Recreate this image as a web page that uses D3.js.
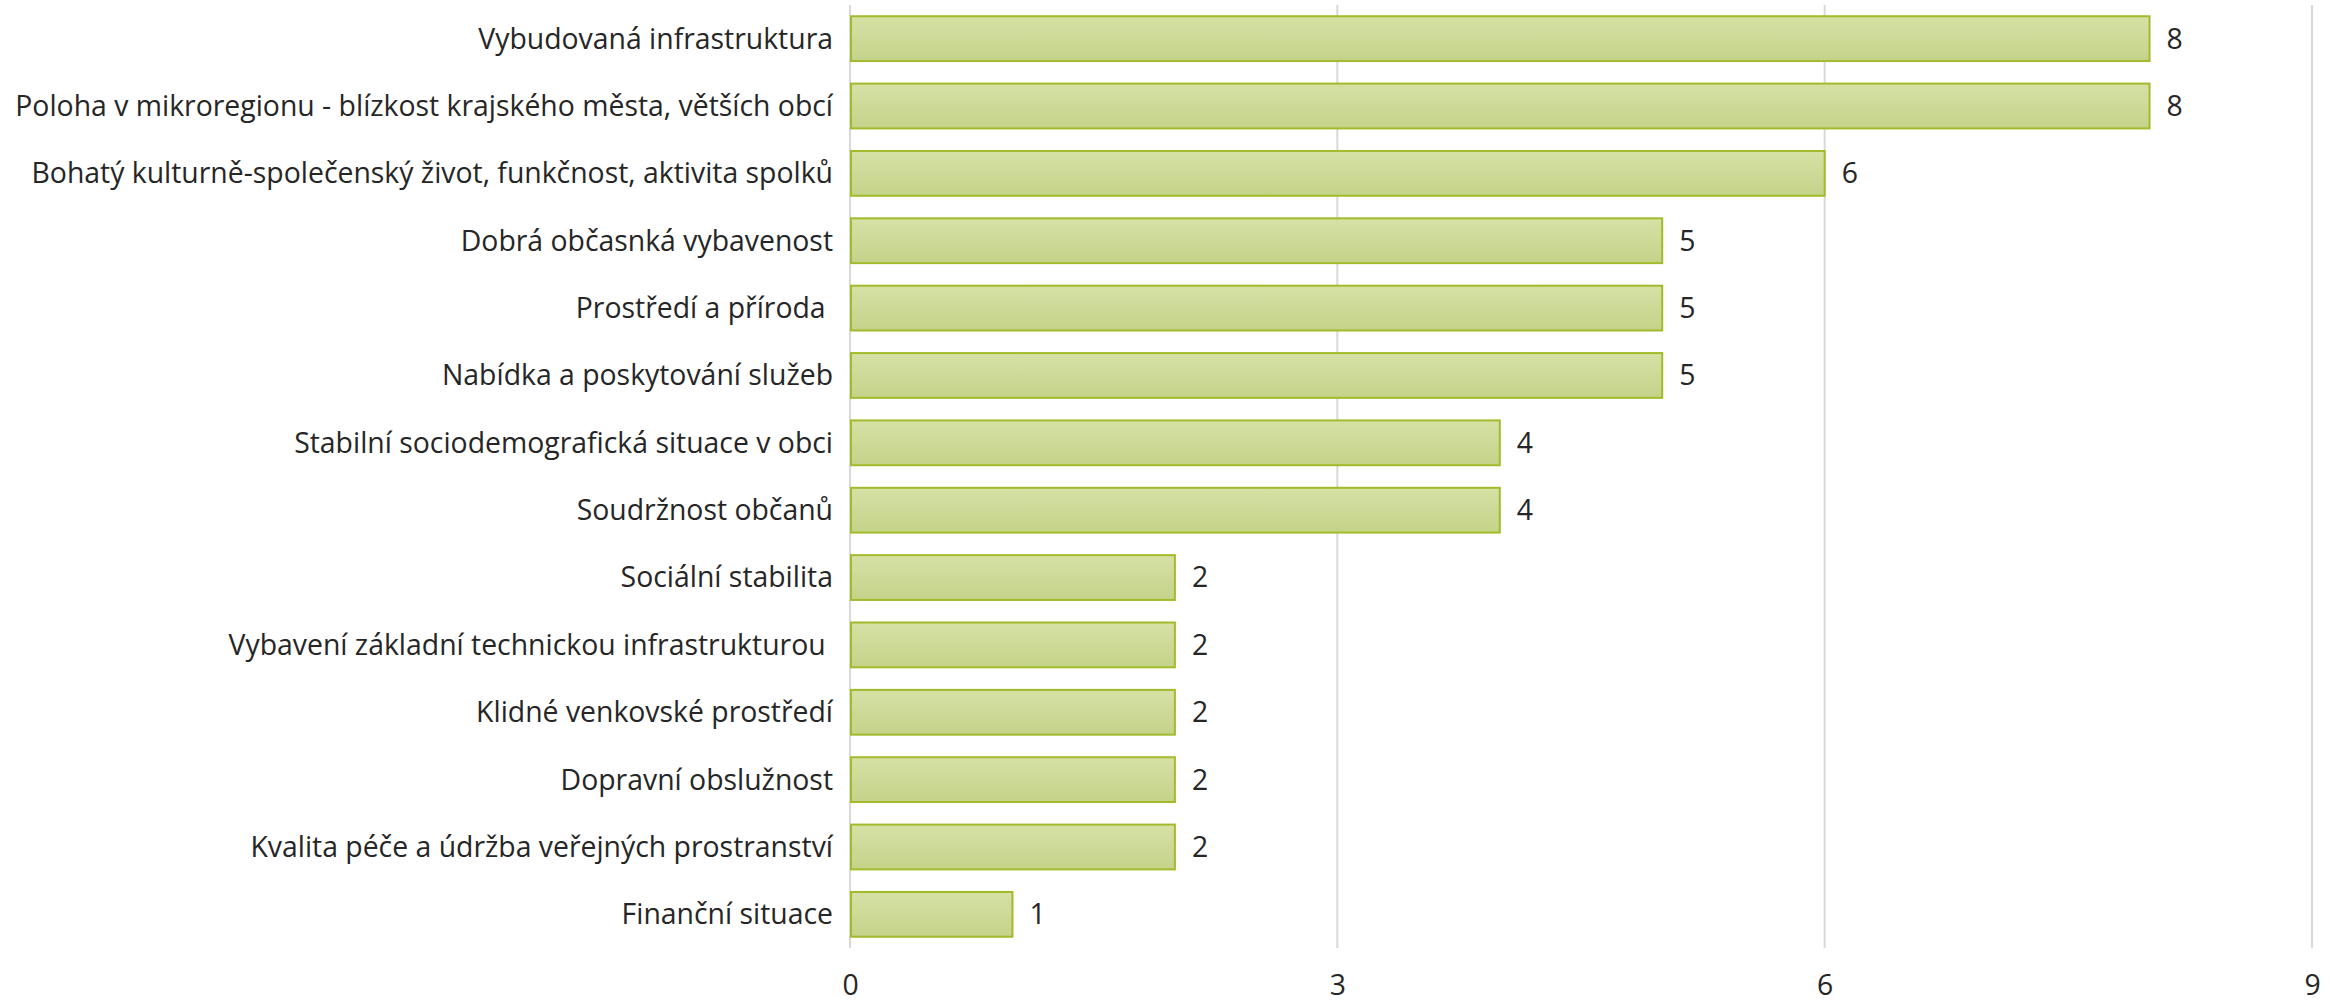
<!DOCTYPE html>
<html><head><meta charset="utf-8">
<script src="https://cdn.jsdelivr.net/npm/d3@7"></script>
<style>
html,body{margin:0;padding:0;background:#fff;}
svg{display:block;}
text{font-family:"Open Sans","Noto Sans",sans-serif;fill:#262626;}
</style></head><body>
<svg id="chart" width="2341" height="1004"></svg>
<script>
const categories = [
  "Vybudovaná infrastruktura",
  "Poloha v mikroregionu - blízkost krajského města, větších obcí",
  "Bohatý kulturně-společenský život, funkčnost, aktivita spolků",
  "Dobrá občasnká vybavenost",
  "Prostředí a příroda ",
  "Nabídka a poskytování služeb",
  "Stabilní sociodemografická situace v obci",
  "Soudržnost občanů",
  "Sociální stabilita",
  "Vybavení základní technickou infrastrukturou ",
  "Klidné venkovské prostředí",
  "Dopravní obslužnost",
  "Kvalita péče a údržba veřejných prostranství",
  "Finanční situace"
];
const values = [8, 8, 6, 5, 5, 5, 4, 4, 2, 2, 2, 2, 2, 1];
const tickValues = [0, 3, 6, 9];

(function(){
const svg = d3.select("#chart");
const mLeft = 850, mRight = 2312, mTop = 5, mBottom = 948;

const x = d3.scaleLinear().domain([0, 9]).range([mLeft, mRight]);
const y = d3.scaleBand().domain(categories).range([mTop, mBottom]).paddingInner(0.335).paddingOuter(0.167);

const defs = svg.append("defs");
const grad = defs.append("linearGradient").attr("id","barGrad").attr("x1",0).attr("y1",0).attr("x2",0).attr("y2",1);
grad.append("stop").attr("offset","0%").attr("stop-color","#d6e1a5");
grad.append("stop").attr("offset","100%").attr("stop-color","#c4d389");

svg.append("g").selectAll("line").data(tickValues).join("line")
  .attr("x1", d => x(d)).attr("x2", d => x(d))
  .attr("y1", mTop).attr("y2", mBottom)
  .attr("stroke", "#d9d9d9").attr("stroke-width", 2);

svg.append("g").selectAll("rect").data(values).join("rect")
  .attr("x", x(0) + 1)
  .attr("y", (d, i) => y(categories[i]))
  .attr("width", d => x(d) - x(0) - 1)
  .attr("height", y.bandwidth())
  .attr("fill", "url(#barGrad)")
  .attr("stroke", "#a2bb2b").attr("stroke-width", 2);

const labels = svg.append("g").selectAll("text").data(categories).join("text")
  .attr("x", 833)
  .attr("y", d => y(d) + y.bandwidth() / 2)
  .attr("dy", "0.35em")
  .attr("text-anchor", "end")
  .attr("font-size", 26)
  .attr("xml:space", "preserve")
  .style("white-space", "pre")
  .text(d => d);
let maxW = 0;
labels.each(function(){ maxW = Math.max(maxW, this.getComputedTextLength()); });
const fs = 26 * 818 / maxW;
labels.attr("font-size", fs);

svg.append("g").selectAll("text").data(values).join("text")
  .attr("x", d => x(d) + 17)
  .attr("y", (d, i) => y(categories[i]) + y.bandwidth() / 2)
  .attr("dy", "0.35em")
  .attr("font-size", fs)
  .text(d => d);

const axis = d3.axisBottom(x).tickValues(tickValues).tickSize(0).tickPadding(0);
const ag = svg.append("g").attr("transform", `translate(0, ${mBottom})`).call(axis);
ag.select(".domain").remove();
ag.selectAll("text").attr("y", 47).attr("dy", 0).attr("font-size", fs)
  .style("font-family", '"Open Sans","Noto Sans",sans-serif').attr("fill", "#262626");
})();
</script>
</body></html>
